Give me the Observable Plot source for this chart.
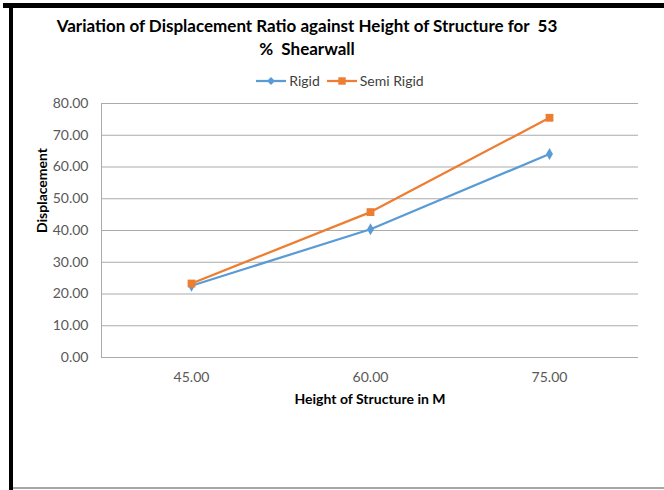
<!DOCTYPE html>
<html>
<head>
<meta charset="utf-8">
<script src="https://cdn.jsdelivr.net/npm/d3@7"></script>
<script src="https://cdn.jsdelivr.net/npm/@observablehq/plot@0.6"></script>
<style>
  html, body { margin: 0; padding: 0; background: #fff; }
  #wrap { position: relative; width: 664px; height: 490px; overflow: hidden; background: #fff; font-family: Lato, "Open Sans", sans-serif; }
  .bar-top { position: absolute; left: 3px; top: 3px; width: 661px; height: 5px; background: #000; }
  .bar-left { position: absolute; left: 9px; top: 3px; width: 4px; height: 487px; background: #000; }
  .bar-bottom { position: absolute; left: 13px; top: 487px; width: 651px; height: 2px; background: #a6a6a6; }
  .title { position: absolute; left: 0; width: 614px; text-align: center; font-weight: bold; font-size: 17px; color: #000; line-height: 23px; white-space: pre; }
  #legend { position: absolute; top: 72px; left: 0; width: 680px; display: flex; justify-content: center; align-items: center; font-size: 14px; color: #404040; gap: 7px; }
  #legend .item { display: flex; align-items: center; gap: 3px; }
  #chart { position: absolute; left: 0; top: 88px; }
</style>
</head>
<body>
<div id="wrap">
  <div class="bar-top"></div>
  <div class="bar-left"></div>
  <div class="bar-bottom"></div>
  <div class="title" style="top:14px">Variation of Displacement Ratio against Height of Structure for  53</div>
  <div class="title" style="top:37px">%  Shearwall</div>
  <div id="legend"></div>
  <div id="chart"></div>
</div>
<script>
const heights = [45, 60, 75];
const rigid = [22.6, 40.4, 64.1];
const semiRigid = [23.3, 45.8, 75.5];
const seriesNames = ["Rigid", "Semi Rigid"];
const seriesColors = ["#5B9BD5", "#ED7D31"];
const seriesSymbols = ["diamond", "square"];
const yTicks = [0, 10, 20, 30, 40, 50, 60, 70, 80];
const xTitle = "Height of Structure in M";
const yTitle = "Displacement";

const rows = [];
heights.forEach((h, i) => {
  rows.push({h, v: rigid[i], s: seriesNames[0]});
  rows.push({h, v: semiRigid[i], s: seriesNames[1]});
});

const plot = Plot.plot({
  width: 664,
  height: 330,
  marginTop: 15,
  marginBottom: 61,
  marginLeft: 101,
  marginRight: 26,
  x: {type: "point", domain: heights, padding: 0.5, label: null},
  y: {domain: [0, 80], label: null},
  color: {domain: seriesNames, range: seriesColors},
  style: {fontFamily: "Lato, 'Open Sans', sans-serif", fontSize: "14px", color: "#595959", background: "transparent", overflow: "visible"},
  marks: [
    Plot.ruleY(yTicks, {stroke: "#ababab", strokeWidth: 1}),
    Plot.frame({anchor: "left", stroke: "#ababab"}),
    Plot.axisY({ticks: yTicks, tickSize: 0, tickPadding: 13, tickFormat: d => d.toFixed(2), label: null}),
    Plot.axisX({tickSize: 0, tickPadding: 15, tickFormat: d => d.toFixed(2), label: null}),
    Plot.line(rows, {x: "h", y: "v", stroke: "s", strokeWidth: 2.25}),
    Plot.dot(rows.filter(d => d.s === seriesNames[0]), {x: "h", y: "v", fill: "s", symbol: () => seriesSymbols[0], r: 3.6}),
    Plot.dot(rows.filter(d => d.s === seriesNames[1]), {x: "h", y: "v", fill: "s", symbol: () => seriesSymbols[1], r: 4.4}),
    Plot.text([xTitle], {frameAnchor: "bottom", dy: 46, fontWeight: "bold", fill: "#000", fontSize: 14}),
    Plot.text([yTitle], {frameAnchor: "left", textAnchor: "middle", rotate: -90, dx: -59, dy: -40, fontWeight: "bold", fill: "#000", fontSize: 14})
  ]
});
document.getElementById("chart").appendChild(plot);

// legend
const legend = d3.select("#legend");
seriesNames.forEach((name, i) => {
  const item = legend.append("div").attr("class", "item");
  const svg = item.append("svg").attr("width", 30).attr("height", 10);
  svg.append("line").attr("x1", 0).attr("x2", 30).attr("y1", 5).attr("y2", 5)
    .attr("stroke", seriesColors[i]).attr("stroke-width", 2.25);
  const sym = i === 0 ? d3.symbolDiamond2 : d3.symbolSquare;
  svg.append("path").attr("transform", "translate(15,5)")
    .attr("d", d3.symbol(sym, i === 0 ? 40 : 55)()).attr("fill", seriesColors[i]);
  item.append("span").text(name);
});
</script>
</body>
</html>
